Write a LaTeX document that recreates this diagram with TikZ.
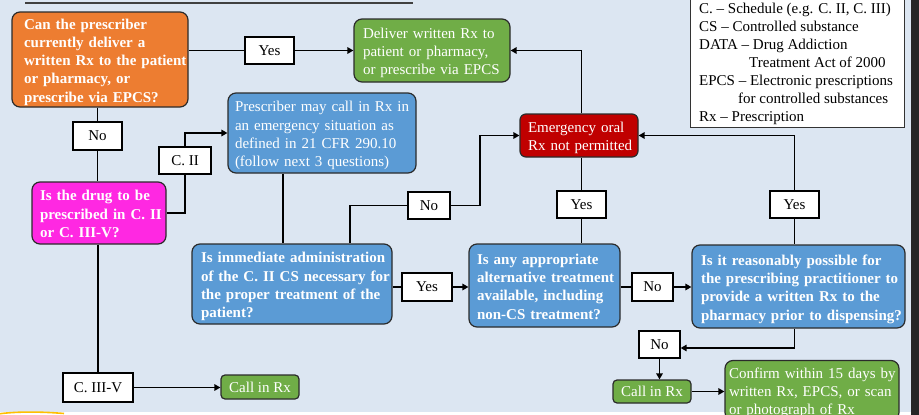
\documentclass[tikz,border=0pt]{standalone}
\usepackage{fontspec}
\setmainfont{Liberation Serif}
\usetikzlibrary{arrows.meta}

\definecolor{bgblue}{HTML}{DCE6F2}
\definecolor{orangebox}{HTML}{ED7D31}
\definecolor{greenbox}{HTML}{70AD47}
\definecolor{bluebox}{HTML}{5B9BD5}
\definecolor{redbox}{HTML}{C00000}
\definecolor{pinkbox}{HTML}{FF28E2}
\definecolor{edge}{HTML}{2B2B2B}
\definecolor{strip}{HTML}{262626}
\definecolor{ribbon}{HTML}{FFC000}

% a left-aligned block of fixed lines that never wraps, set a little low in its box
\newcommand\boxlines[1]{\raisebox{-2.5pt}[\height][\depth]{\begin{tabular}{@{}l@{}}#1\end{tabular}}}

\tikzset{
  txt/.style={font=\fontsize{15}{18.3}\selectfont},
  btxt/.style={font=\bfseries\fontsize{15}{18.3}\selectfont},
  flowbox/.style={draw=edge, line width=1.2pt, rounded corners=8pt, text=white, align=left, inner ysep=0pt},
  boxsize/.style n args={4}{minimum width=#1pt, minimum height=#2pt, inner xsep=#3pt, text width=#4pt},
  tag/.style={draw=black, fill=white, line width=1.3pt, txt, inner sep=0pt},
  tagsize/.style 2 args={minimum width=#1pt, minimum height=#2pt},
  link/.style={line width=1.4pt, black},
  arrow/.style={link, -{Triangle[length=6pt,width=6.5pt]}},
}

\begin{document}
\begin{tikzpicture}[x=1pt,y=-1pt]
\useasboundingbox (0,0) rectangle (919,415);
\clip (0,0) rectangle (919,415);

% slide background
\fill[white] (0,0) rectangle (919,415);
\fill[bgblue] (0,-2) rectangle (911,412);
\fill[strip] (911,-2) rectangle (919,416);
\draw[ribbon, line width=1.6pt] (-2,414) .. controls (15,411.5) and (40,411.5) .. (64,413.5);

% heading underline
\draw[line width=1.3pt, black!75] (25,3) -- (413,3);

% abbreviations
\draw[black!80, line width=1pt, fill=white] (690,-6) rectangle (904,127);
\node[anchor=north west, inner sep=0pt, align=left, font=\fontsize{15}{18.1}\selectfont] (legend) at (699,2.5)
  {C. -- Schedule (e.g. C. II, C. III)\\
   CS -- Controlled substance\\
   DATA -- Drug Addiction\\
   \hspace*{50pt}Treatment Act of 2000\\
   EPCS -- Electronic prescriptions\\
   \hspace*{39pt}for controlled substances\\
   Rx -- Prescription};

% decision and action boxes
\node[flowbox, fill=orangebox, btxt, boxsize={176}{95}{12}{152}] (q0) at (100,59.5)
  {\boxlines{Can the prescriber\\currently deliver a\\written Rx to the patient\\or pharmacy, or\\prescribe via EPCS?}};
\node[flowbox, fill=greenbox, txt, boxsize={156}{63}{9}{138}] (deliv) at (432,50.5)
  {\boxlines{Deliver written Rx to\\patient or pharmacy,\\or prescribe via EPCS}};
\node[flowbox, fill=pinkbox, btxt, boxsize={134}{62}{8}{118}] (drug) at (99,213)
  {\boxlines{Is the drug to be\\prescribed in C. II\\or C. III-V?}};
\node[flowbox, fill=bluebox, txt, boxsize={188}{80}{7}{174}] (emerg) at (322,133)
  {\boxlines{Prescriber may call in Rx in\\an emergency situation as\\defined in 21 CFR 290.10\\(follow next 3 questions)}};
\node[flowbox, fill=bluebox, btxt, boxsize={200}{80}{9}{182}] (qa) at (292,284)
  {\boxlines{Is immediate administration\\of the C. II CS necessary for\\the proper treatment of the\\patient?}};
\node[flowbox, fill=redbox, txt, rounded corners=6pt, boxsize={118}{43}{8}{102}] (deny) at (579,135.5)
  {\boxlines{Emergency oral\\Rx not permitted}};
\node[flowbox, fill=bluebox, btxt, boxsize={151}{83}{8}{135}] (qb) at (544.5,285.5)
  {\boxlines{Is any appropriate\\alternative treatment\\available, including\\non-CS treatment?}};
\node[flowbox, fill=bluebox, btxt, boxsize={213}{83}{9}{195}] (qc) at (798.5,286.5)
  {\boxlines{Is it reasonably possible for\\the prescribing practitioner to\\provide a written Rx to the\\pharmacy prior to dispensing?}};
\node[flowbox, fill=greenbox, txt, rounded corners=4pt, align=center,
      minimum width=78pt, minimum height=23pt, inner sep=0pt] (callb) at (652,391.5) {Call in Rx};
\node[flowbox, fill=greenbox, txt, boxsize={174}{60}{4}{166}] (confirm) at (812,390.5)
  {\boxlines{Confirm within 15 days by\\written Rx, EPCS, or scan\\or photograph of Rx}};
\node[flowbox, fill=greenbox, txt, rounded corners=4pt, align=center,
      minimum width=78pt, minimum height=24pt, inner sep=0pt] (calla) at (260,387) {Call in Rx};

% answer tags
\node[tag, tagsize={49}{27}] (yesA) at (269.5,50.5) {Yes};
\node[tag, tagsize={49}{28}] (noA) at (97.5,136) {No};
\node[tag, tagsize={52}{27}] (cii) at (185,160.5) {C. II};
\node[tag, tagsize={42}{27}] (noB) at (429,205.5) {No};
\node[tag, tagsize={49}{27}] (yesB) at (581.5,204.5) {Yes};
\node[tag, tagsize={50}{28}] (yesC) at (427,287) {Yes};
\node[tag, tagsize={41}{28}] (noC) at (652.5,287) {No};
\node[tag, tagsize={49}{27}] (yesD) at (794.5,204.5) {Yes};
\node[tag, tagsize={41}{27}] (noD) at (659.5,344.5) {No};
\node[tag, tagsize={70}{29}] (ciiiv) at (98,387.5) {C. III-V};

% connectors
\draw[link] (q0.east|-yesA.center) -- (yesA);
\draw[arrow] (yesA) -- (deliv.west|-yesA.center);
\draw[link] (noA.center|-q0.south) -- (noA);
\draw[link] (noA) -- (noA.center|-drug.north);
\draw[link] (drug.east) -| (cii);
\draw[arrow] (cii) |- (emerg.west);
\draw[link] ([xshift=-39pt]emerg.south) -- ([xshift=-9pt]qa.north);
\draw[link] ([xshift=58pt]qa.north) |- (noB);
\coordinate (bend) at (480,170);
\draw[arrow] (noB) -| (bend) |- (deny.west);
\draw[arrow] (yesB.center|-deny.north) |- (deliv.east);
\draw[link] (yesB) -- (yesB.center|-deny.south);
\draw[link] (yesB) -- (yesB.center|-qb.north);
\draw[link] (qa.east|-yesC.center) -- (yesC);
\draw[arrow] (yesC) -- (qb.west|-yesC.center);
\draw[link] (qb.east|-noC.center) -- (noC);
\draw[arrow] (noC) -- (qc.west|-noC.center);
\draw[link] (yesD) -- (yesD.center|-qc.north);
\draw[arrow] (yesD) |- (deny.east);
\draw[arrow] (yesD.center|-qc.south) |- ([yshift=-3.5pt]noD.east);
\draw[arrow] (noD) -- (noD.center|-callb.north);
\draw[arrow] (callb) -- (confirm.west|-callb.center);
\draw[link] (ciiiv.center|-drug.south) -- (ciiiv);
\draw[arrow] (ciiiv) -- (calla.west|-ciiiv.center);
\end{tikzpicture}
\end{document}
